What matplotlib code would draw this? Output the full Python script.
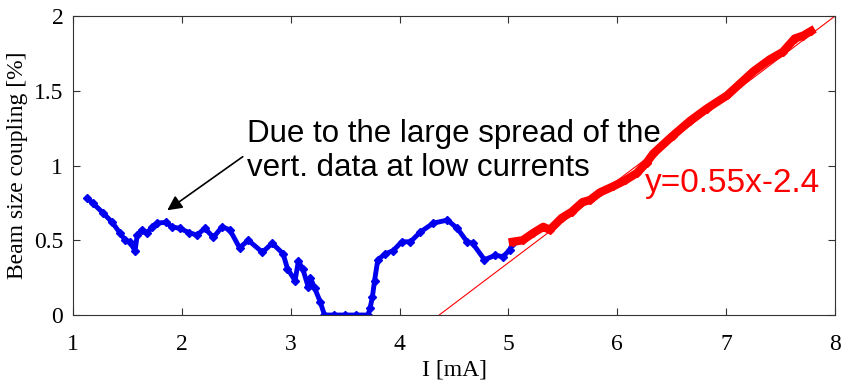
import numpy as np
import matplotlib
matplotlib.use('Agg')
import matplotlib.pyplot as plt

# low-current measurements (blue)
lowI = [1.13, 1.18, 1.28, 1.36, 1.43, 1.48, 1.52, 1.57, 1.59, 1.63, 1.68, 1.73, 1.77,
        1.85, 1.91, 1.98, 2.07, 2.14, 2.21, 2.29, 2.37, 2.44, 2.53, 2.61, 2.74, 2.83,
        2.93, 2.97, 3.04, 3.07, 3.11, 3.16, 3.18, 3.22, 3.27, 3.31, 3.40, 3.50, 3.60,
        3.71, 3.73, 3.75, 3.77, 3.80, 3.87, 3.94, 4.02, 4.10, 4.19, 4.31, 4.44, 4.53,
        4.62, 4.67, 4.78, 4.88, 4.95, 5.01, 5.04]
lowC = [0.78, 0.75, 0.68, 0.62, 0.55, 0.50, 0.49, 0.43, 0.535, 0.57, 0.55, 0.59, 0.615,
        0.62, 0.59, 0.58, 0.55, 0.535, 0.58, 0.52, 0.59, 0.57, 0.45, 0.50, 0.42, 0.48,
        0.41, 0.31, 0.23, 0.36, 0.31, 0.19, 0.25, 0.18, 0.09, 0.0, 0.0, 0.0, 0.0,
        0.0, 0.05, 0.12, 0.23, 0.37, 0.41, 0.43, 0.49, 0.49, 0.555, 0.615, 0.635, 0.58,
        0.49, 0.48, 0.37, 0.40, 0.39, 0.435, 0.48]

# high-current measurements (red)
highI = [5.04, 5.13, 5.23, 5.32, 5.38, 5.49, 5.58, 5.68, 5.75, 5.84, 5.96, 6.07, 6.18,
         6.27, 6.33, 6.51, 6.67, 6.82, 7.01, 7.13, 7.25, 7.40, 7.52, 7.63, 7.71, 7.78]
highC = [0.49, 0.50, 0.55, 0.59, 0.57, 0.65, 0.69, 0.755, 0.77, 0.82, 0.86, 0.90, 0.95,
         1.02, 1.08, 1.20, 1.30, 1.38, 1.47, 1.55, 1.63, 1.71, 1.76, 1.85, 1.87, 1.90]

# linear fit y = 0.55x - 2.4
slope = 0.55
offset = -2.4

fig = plt.figure(figsize=(8.48, 3.83), dpi=100)
ax = fig.add_axes([0.0861, 0.1775, 0.8986, 0.7805])

fitI = np.array([-offset / slope, 8.0])
ax.plot(fitI, slope * fitI + offset, color='r', lw=0.8)

ax.plot(lowI, lowC, color='#0000ee', lw=3.5, marker='D', ms=4, mec='#0000ee', mfc='#0000ee')
ax.plot(highI, highC, color='r', lw=6, marker='D', ms=4, mec='r', mfc='r')

ax.set_xlim(1, 8)
ax.set_ylim(0, 2)
ax.set_xticks(range(1, 9))
ax.set_yticks([0, 0.5, 1, 1.5, 2])
ax.set_yticklabels(['0', '0.5', '1', '1.5', '2'])
ax.tick_params(direction='in', top=True, right=True, length=5, width=0.8,
               labelsize=17, color='#333333')
ax.tick_params(axis='x', pad=14)
ax.tick_params(axis='y', pad=7)
for lab in ax.get_xticklabels() + ax.get_yticklabels():
    lab.set_family('Liberation Serif')
for s in ax.spines.values():
    s.set_color('#333333')

ax.set_xlabel('I [mA]', family='Liberation Serif', size=17, labelpad=3)
ax.set_ylabel('Beam size coupling [%]', family='Liberation Serif', size=17, labelpad=4)

ax.annotate('', xy=(1.845, 0.69), xytext=(2.58, 1.07),
            arrowprops=dict(arrowstyle='-|>', color='k', lw=1.2, mutation_scale=22))
ax.text(2.6, 1.31, 'Due to the large spread of the\nvert. data at low currents',
        family='Liberation Sans', size=22.5, va='top', ha='left', linespacing=1.15)
ax.text(6.25, 0.88, 'y=0.55x-2.4', family='Liberation Sans', size=24,
        color='r', va='center', ha='left')

fig.savefig('out.png', dpi=100)
